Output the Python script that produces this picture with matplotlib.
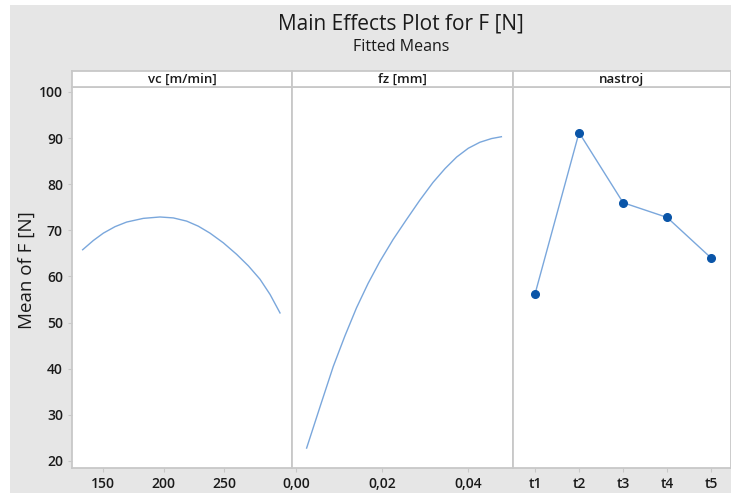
import matplotlib
matplotlib.use("Agg")
import matplotlib.pyplot as plt
from matplotlib.patches import Rectangle

plt.rcParams['font.family'] = ['Open Sans', 'DejaVu Sans']

# Fitted means for each factor
vc_levels = [133.2, 142.0, 150.3, 159.9, 169.5, 183.3, 197.0, 208.0, 219.1,
             228.7, 238.3, 249.3, 260.3, 270.0, 279.6, 287.9, 296.1]
vc_means = [65.8, 67.8, 69.4, 70.8, 71.8, 72.6, 72.9, 72.7, 72.0,
            70.9, 69.4, 67.3, 64.8, 62.3, 59.4, 56.1, 52.1]

fz_levels = [0.0025, 0.0056, 0.0087, 0.0114, 0.0141, 0.0168, 0.0195, 0.0226,
             0.0257, 0.0288, 0.0319, 0.0347, 0.0374, 0.0401, 0.0428, 0.0455, 0.0478]
fz_means = [22.8, 31.7, 40.5, 47.1, 53.2, 58.5, 63.2, 68.0,
            72.3, 76.5, 80.4, 83.4, 85.9, 87.8, 89.1, 89.9, 90.3]

tools = ['t1', 't2', 't3', 't4', 't5']
tool_means = [56.2, 91.2, 76.0, 72.8, 64.0]

panel_titles = ['vc [m/min]', 'fz [mm]', 'nastroj']
y_ticks = [20, 30, 40, 50, 60, 70, 80, 90, 100]
vc_ticks = [150, 200, 250]
fz_ticks = [0.0, 0.02, 0.04]
fz_ticklabels = ['0,00', '0,02', '0,04']

W, H = 731, 493
fig = plt.figure(figsize=(W / 100, H / 100), dpi=100)
fig.patch.set_facecolor('white')

BG = '#e6e6e6'
SPINE = '#c8c8c8'
LINE = '#7aa7dc'
MARK = '#0a55a8'
TXT = '#1a1a1a'

# grey backdrop
fig.patches.append(Rectangle((10 / W, 0), 1 - 10 / W, 1 - 5 / H,
                             transform=fig.transFigure, facecolor=BG,
                             edgecolor='none', zorder=-10))

fig.text(401 / W, 1 - 24 / H, 'Main Effects Plot for F [N]', ha='center',
         va='center', fontsize=15, color=TXT)
fig.text(401 / W, 1 - 47 / H, 'Fitted Means', ha='center', va='center',
         fontsize=11.5, color=TXT)

bounds = [(72, 292), (292, 513), (513, 731)]
top, bottom = 87, 468
head_top = 71
axes = []
for i, (x0, x1) in enumerate(bounds):
    ax = fig.add_axes([x0 / W, 1 - bottom / H, (x1 - x0) / W, (bottom - top) / H])
    ax.set_facecolor('white')
    for s in ax.spines.values():
        s.set_color(SPINE)
        s.set_linewidth(1.3)
    ax.set_ylim(18.48, 101.08)
    ax.set_yticks(y_ticks)
    ax.tick_params(axis='both', colors=SPINE, length=3, width=0.8,
                   labelcolor=TXT, labelsize=10)
    if i > 0:
        ax.tick_params(axis='y', left=False, labelleft=False)
    # header strip
    hax = fig.add_axes([x0 / W, 1 - top / H, (x1 - x0) / W, (top - head_top) / H])
    hax.set_facecolor('white')
    hax.set_xticks([])
    hax.set_yticks([])
    for s in hax.spines.values():
        s.set_color(SPINE)
        s.set_linewidth(1.3)
    hax.text(0.5, 0.45, panel_titles[i], ha='center', va='center',
             fontsize=9.5, fontweight='semibold', color=TXT, transform=hax.transAxes)
    axes.append(ax)

ax1, ax2, ax3 = axes
ax1.plot(vc_levels, vc_means, color=LINE, lw=1.0)
ax1.set_xlim(124.4, 306)
ax1.set_xticks(vc_ticks)

ax2.plot(fz_levels, fz_means, color=LINE, lw=1.0)
ax2.set_xlim(-0.0009, 0.0505)
ax2.set_xticks(fz_ticks)
ax2.set_xticklabels(fz_ticklabels)

pos = list(range(1, len(tools) + 1))
ax3.plot(pos, tool_means, color=LINE, lw=1.0, marker='o', ms=5.5,
         markerfacecolor=MARK, markeredgecolor=MARK)
ax3.set_xlim(0.5, 5.45)
ax3.set_xticks(pos)
ax3.set_xticklabels(tools)

for ax in axes:
    for lbl in ax.get_xticklabels() + ax.get_yticklabels():
        lbl.set_fontweight('semibold')

fig.text(27 / W, 1 - 270 / H, 'Mean of F [N]', rotation=90, ha='center',
         va='center', fontsize=13.5, color=TXT)

fig.savefig('out.png', dpi=100)
